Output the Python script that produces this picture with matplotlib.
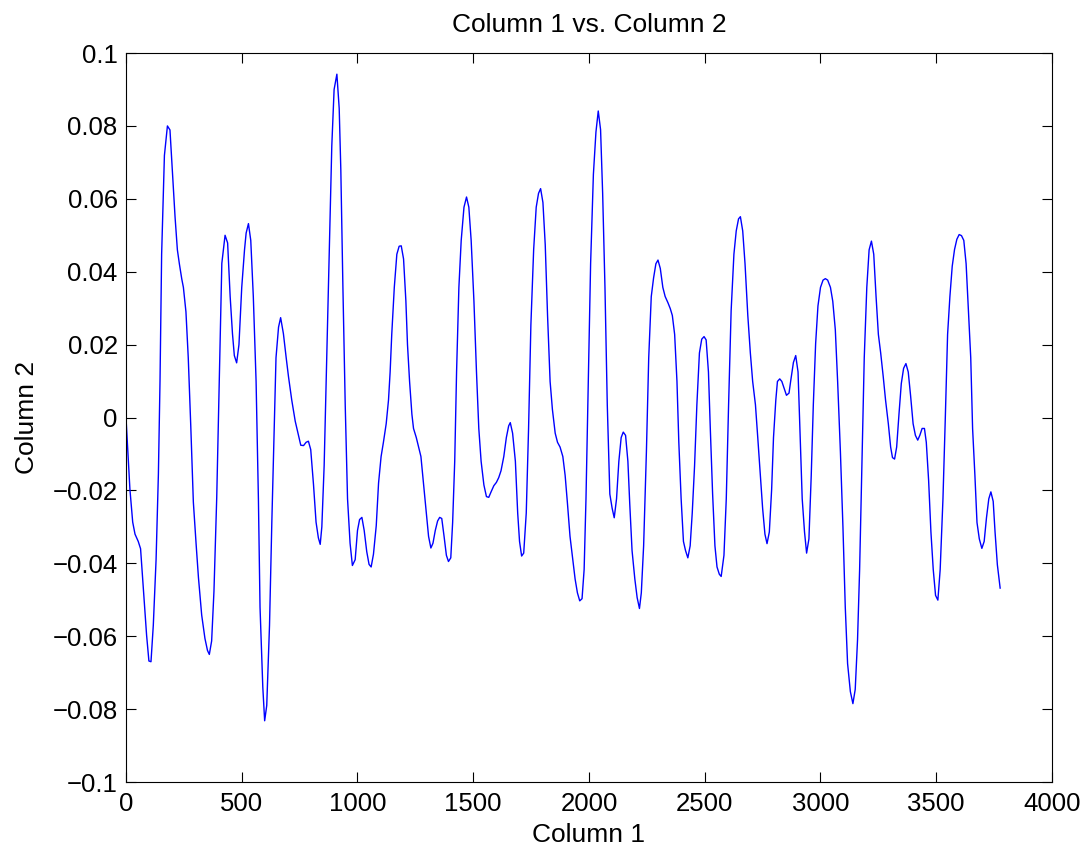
import matplotlib.pyplot as plt
from matplotlib.ticker import FuncFormatter

plt.rcParams['font.family'] = ['Liberation Sans', 'DejaVu Sans']

# values
col1 = [0, 17, 29, 39, 53, 63, 75, 89, 99, 108, 118, 130, 140, 147, 154, 166, 179, 190,
        200, 212, 222, 231, 241, 248, 259, 269, 280, 291, 303, 313, 327, 341, 352, 360,
        370, 380, 392, 403, 414, 428, 439, 450, 460, 468, 478, 488, 500, 512, 519, 529,
        539, 550, 562, 572, 579, 591, 599, 608, 620, 630, 640, 648, 659, 668, 680, 692,
        702, 716, 731, 745, 755, 767, 778, 788, 798, 810, 821, 831, 839, 846, 856, 867,
        879, 889, 899, 911, 921, 928, 937, 947, 957, 968, 978, 990, 1000, 1009, 1019,
        1029, 1040, 1050, 1059, 1069, 1081, 1091, 1102, 1112, 1124, 1134, 1141, 1148,
        1159, 1170, 1180, 1189, 1199, 1209, 1216, 1225, 1235, 1242, 1254, 1264, 1274,
        1285, 1297, 1307, 1317, 1326, 1336, 1346, 1355,
        1364, 1374, 1384, 1393, 1403, 1411, 1420, 1428, 1438, 1448, 1460, 1471, 1481,
        1491, 1503, 1514, 1524, 1534, 1546, 1557, 1567, 1577, 1589, 1600, 1610, 1620,
        1632, 1643, 1653, 1660, 1670, 1682, 1692, 1700, 1709, 1718, 1729, 1739, 1749,
        1761, 1772, 1782, 1791, 1801, 1811, 1821, 1832, 1842, 1854, 1864, 1875, 1887,
        1897, 1907, 1918, 1930, 1940, 1950, 1960, 1970, 1979, 1987, 1997, 2007, 2019,
        2030, 2040, 2050, 2059, 2069, 2079, 2090, 2100, 2109, 2119, 2129, 2139, 2148,
        2158, 2168, 2176, 2186, 2198, 2208, 2218, 2226, 2236, 2248, 2258, 2269, 2279,
        2289, 2298, 2308, 2319, 2329, 2341, 2351, 2360, 2370, 2380, 2388, 2398, 2408,
        2417, 2427, 2437, 2446, 2456, 2466, 2477, 2487, 2497, 2506, 2516, 2524, 2534,
        2544, 2553, 2563,
        2571, 2583, 2593, 2603, 2614, 2626, 2636, 2646, 2654, 2664, 2674, 2686, 2697,
        2707, 2719, 2729, 2740, 2750, 2760, 2769, 2779, 2789, 2797, 2807, 2814, 2824,
        2833, 2843, 2853, 2864, 2871, 2883, 2893, 2903, 2911, 2921, 2931, 2940, 2950,
        2960, 2969, 2979, 2989, 3000, 3011, 3021, 3031, 3043, 3053, 3064, 3074, 3086,
        3097, 3107, 3117, 3129, 3140, 3150, 3160, 3169, 3179, 3189, 3200, 3210, 3220,
        3230, 3240, 3250, 3260, 3271, 3281, 3293, 3303, 3311, 3320, 3329, 3339, 3349,
        3359, 3369, 3379, 3389, 3400, 3410, 3420, 3429, 3439, 3449, 3457, 3467, 3477,
        3487, 3497, 3507, 3517, 3529, 3539, 3549, 3559, 3569, 3579, 3589, 3599, 3609,
        3619, 3629, 3639, 3649, 3657, 3667, 3676, 3686, 3697, 3707, 3717, 3727, 3736,
        3746, 3754, 3764, 3776]

col2 = [0.0, -0.0197, -0.0287, -0.032, -0.034, -0.036, -0.0468, -0.0597, -0.0668, -0.067,
        -0.057, -0.039, -0.0155, 0.010, 0.0448, 0.0719, 0.080, 0.0789, 0.068, 0.055,
        0.046, 0.042, 0.038, 0.0357, 0.029, 0.0164, -0.0026, -0.0232, -0.0348, -0.0439,
        -0.0542, -0.0606, -0.0639, -0.065, -0.0613, -0.0477, -0.0219, 0.0099, 0.0423,
        0.050, 0.0479, 0.0332, 0.023, 0.017, 0.015, 0.020, 0.0357, 0.046, 0.0506, 0.0532,
        0.0486, 0.0332, 0.0099, -0.0223, -0.052, -0.074, -0.0832, -0.079, -0.057,
        -0.0287, -0.003, 0.0164, 0.0248, 0.0274, 0.023, 0.0164, 0.0112, 0.0048, -0.001,
        -0.0048, -0.0076, -0.0077, -0.0068, -0.0065, -0.0088, -0.0184, -0.0287, -0.033,
        -0.0348, -0.030, -0.0132, 0.0164, 0.049, 0.0745, 0.090, 0.0942, 0.0848, 0.068,
        0.0358, 0.0035, -0.0223, -0.0345, -0.0406, -0.039, -0.031, -0.028, -0.0274,
        -0.031, -0.0368, -0.0403, -0.041, -0.0375, -0.0297, -0.018, -0.0107, -0.0068,
        -0.0017, 0.0048, 0.0125, 0.0228, 0.0357, 0.0448, 0.047, 0.0471, 0.0435, 0.032,
        0.020, 0.0099, 0.0009, -0.003, -0.0055, -0.0081, -0.0107, -0.018, -0.0261,
        -0.0326, -0.0358, -0.0345, -0.031, -0.0284, -0.0274,
        -0.0277, -0.0326, -0.0378, -0.0395, -0.0385, -0.0288, -0.012, 0.0125, 0.0357,
        0.0486, 0.0577, 0.0605, 0.0577, 0.0486, 0.0319, 0.0125, -0.003, -0.012, -0.0185,
        -0.0217, -0.0219, -0.0204, -0.0187, -0.0178, -0.0165, -0.0146, -0.0107, -0.0055,
        -0.0023, -0.0014, -0.0043, -0.012, -0.0262, -0.034, -0.038, -0.0372, -0.0262,
        -0.003, 0.0254, 0.0461, 0.0577, 0.0615, 0.0628, 0.059, 0.0474, 0.028, 0.0099,
        0.0022, -0.0043, -0.0068, -0.0081, -0.0107, -0.0159, -0.0236, -0.0326, -0.0391,
        -0.0443, -0.0481, -0.0503, -0.0497, -0.0417, -0.0223, 0.0099, 0.0422, 0.0667,
        0.0783, 0.0841, 0.079, 0.0615, 0.0357, 0.0035, -0.021, -0.0249, -0.0275,
        -0.0223, -0.012, -0.0055, -0.004, -0.0049, -0.012, -0.0236, -0.0365, -0.0443,
        -0.0494, -0.0524, -0.0481, -0.0352, -0.0094, 0.0164, 0.0332, 0.0383, 0.0422,
        0.0432, 0.0409, 0.0357, 0.0332, 0.0315, 0.0299, 0.028, 0.0228, 0.0099, -0.0068,
        -0.0223, -0.034, -0.0365, -0.0385, -0.0352, -0.0262, -0.0133, 0.0035, 0.0177,
        0.0215, 0.0222, 0.0213, 0.0125, -0.003, -0.021, -0.0352, -0.041, -0.043,
        -0.0436, -0.0378, -0.0223, 0.0035, 0.0293, 0.0448, 0.0512, 0.0545, 0.0551,
        0.0512, 0.0422, 0.028, 0.0177, 0.0099, 0.0035, -0.0055, -0.0159, -0.0249,
        -0.032, -0.0346, -0.0314, -0.0197, -0.0055, 0.0048, 0.0099, 0.0106, 0.0099,
        0.008, 0.0061, 0.0067, 0.0099, 0.0151, 0.017, 0.0125, -0.003, -0.0223, -0.0314,
        -0.0372, -0.0333, -0.0159, 0.0035, 0.0203, 0.0306, 0.0357, 0.0377, 0.0381,
        0.0377, 0.0357, 0.0319, 0.0241, 0.0099, -0.0094, -0.0301, -0.052, -0.0675,
        -0.0752, -0.0785, -0.0746, -0.061, -0.0417, -0.012, 0.0164, 0.0357, 0.046,
        0.0484, 0.0448, 0.0332, 0.0228, 0.0177, 0.0112, 0.0048, -0.0017, -0.0081,
        -0.011, -0.0114, -0.0081, 0.0009, 0.0093, 0.0135, 0.0148, 0.0125, 0.0061,
        -0.0017, -0.0049, -0.0062, -0.0049, -0.003, -0.003, -0.0068, -0.0172, -0.0314,
        -0.0417, -0.0488, -0.0501, -0.0417, -0.0223, -0.0004, 0.0228, 0.0332, 0.0415,
        0.0461, 0.0489, 0.0502, 0.0499, 0.0486, 0.0422, 0.0293, 0.0164, -0.003, -0.0159,
        -0.0288, -0.0333, -0.0359, -0.034, -0.0275, -0.0223, -0.0204, -0.023, -0.0314,
        -0.0404, -0.0468]

xticks = list(range(0, 4001, 500))
yticks = [-0.1, -0.08, -0.06, -0.04, -0.02, 0, 0.02, 0.04, 0.06, 0.08, 0.1]

fig = plt.figure(figsize=(10.87, 8.5), dpi=100)
ax = fig.add_axes([0.1159, 0.08, 0.8519, 0.8576])

ax.plot(col1, col2, color='#0000ff', linewidth=1.0)

ax.set_xlim(0, 4000)
ax.set_ylim(-0.1, 0.1)
ax.set_xticks(xticks)
ax.set_yticks(yticks)
ax.yaxis.set_major_formatter(FuncFormatter(lambda v, p: ('%g' % round(v, 4)).replace('-', '\u2212')))
ax.tick_params(direction='in', top=True, right=True, length=7, width=0.8, labelsize=18.5, pad=6)
ax.tick_params(axis='x', pad=7.5)
for s in ax.spines.values():
    s.set_linewidth(0.8)

ax.set_title("Column 1 vs. Column 2", fontsize=19, pad=15)
ax.set_xlabel("Column 1", fontsize=19)
ax.set_ylabel("Column 2", fontsize=19)
ax.xaxis.set_label_coords(0.5, -0.056)
ax.yaxis.set_label_coords(-0.094, 0.5)

fig.savefig("out.png", dpi=100)
